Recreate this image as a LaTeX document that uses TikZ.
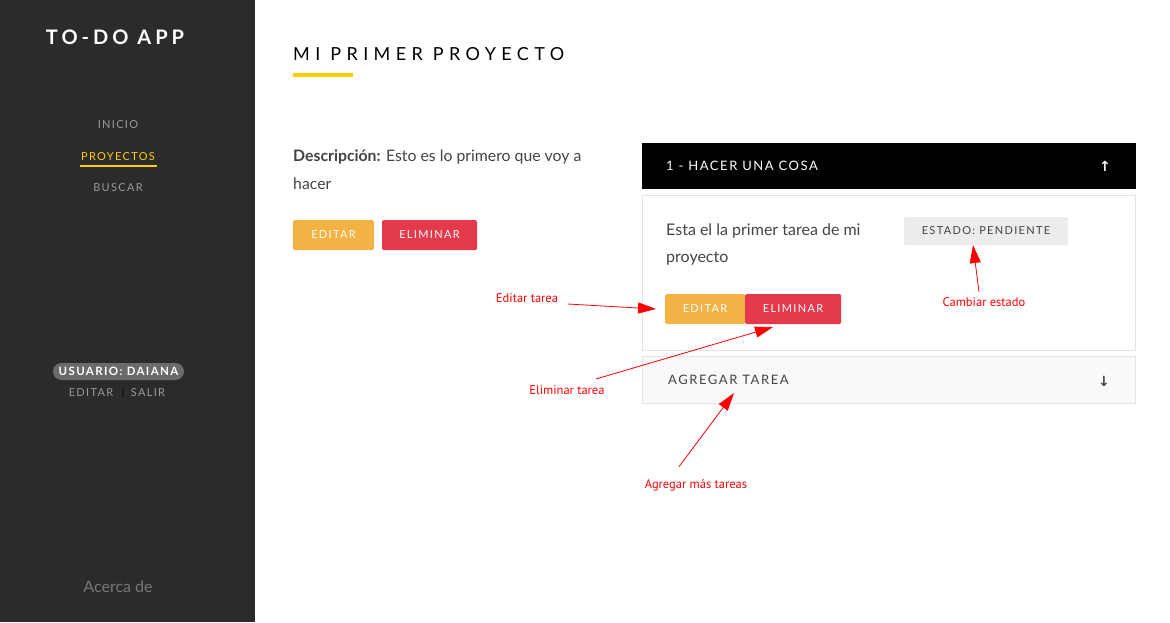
\documentclass[tikz,border=0pt]{standalone}
\usepackage{fontspec}
\setmainfont{Lato}
\newfontfamily\wide[LetterSpace=30]{Lato}
\newfontfamily\brand[LetterSpace=20]{Lato}
\newfontfamily\spaced[LetterSpace=12]{Lato}
\newfontfamily\notefont{PT Sans}
\newfontfamily\symfont{DejaVu Sans}
\usetikzlibrary{arrows.meta,positioning}
\definecolor{side}{HTML}{2B2B2B}
\definecolor{gold}{HTML}{FFCC00}
\definecolor{btnedit}{HTML}{F2B344}
\definecolor{btndel}{HTML}{E43A4B}
\definecolor{txt}{HTML}{444444}
\definecolor{rule}{HTML}{E4E4E4}
\definecolor{menugray}{HTML}{9A9A9A}
\tikzset{
  menu/.style={text=menugray,font=\spaced\fontsize{11}{13}\selectfont},
  btn/.style={minimum height=30pt,inner sep=0pt,text=white,font=\spaced\fontsize{11}{13}\selectfont,rounded corners=1.5pt},
  body/.style={text=txt,font=\fontsize{15.8}{18}\selectfont,anchor=west,inner sep=0pt},
  note/.style={text=red,font=\notefont\fontsize{12.5}{14}\selectfont},
  pointer/.style={red,line width=0.8pt,-{Triangle[length=18pt,width=11pt]}},
}
\begin{document}
\begin{tikzpicture}[x=1pt,y=-1pt]
\useasboundingbox (0,0) rectangle (1170,622);
\fill[white] (0,0) rectangle (1170,622);

% sidebar
\fill[side] (0,0) rectangle (255,622);
\node[text=white,font=\brand\bfseries\fontsize{20}{22}\selectfont] (appname) at (115,37) {TO-DO APP};
\node[menu] (inicio) at (118,125) {INICIO};
\node[menu,text=gold] (proyectos) at (118,157) {PROYECTOS};
\draw[gold,line width=1.5pt] (80,166) -- (157,166);
\node[menu] (buscar) at (118,188) {BUSCAR};
\node[fill=gray!75!side,rounded corners=8.5pt,minimum width=131pt,minimum height=17pt,inner sep=0pt,
      text=white,font=\spaced\bfseries\fontsize{11.5}{13}\selectfont] (usuario) at (118.5,371.5) {USUARIO: DAIANA};
\node[menu] (useredit) at (91,393) {EDITAR};
\node[text=black,font=\fontsize{11}{13}\selectfont] (sep) at (123,393) {|};
\node[menu] (salir) at (148,393) {SALIR};
\node[text=gray!90!side,font=\fontsize{16}{18}\selectfont] (acerca) at (118,587) {Acerca de};

% project
\node[anchor=west,inner sep=0pt,font=\wide\fontsize{18}{20}\selectfont] (titulo) at (293,54) {MI PRIMER PROYECTO};
\fill[gold] (293,73) rectangle (353,77);
\node[body] (desc1) at (293,157) {\textbf{Descripción:} Esto es lo primero que voy a};
\node[body] (desc2) at (293,184) {hacer};
\node[btn,fill=btnedit,minimum width=81pt] (editar) at (333.5,235) {EDITAR};
\node[btn,fill=btndel,minimum width=95pt] (eliminar) at (429.5,235) {ELIMINAR};

% task
\fill[black] (642,143) rectangle (1136,189);
\node[anchor=west,inner sep=0pt,text=white,font=\spaced\fontsize{13}{15}\selectfont] (tarea) at (666,166) {1 - HACER UNA COSA};
\node[text=white,font=\symfont\bfseries\fontsize{14}{16}\selectfont] (up) at (1105,166) {↑};
\draw[rule,fill=white] (642.5,195.5) rectangle (1135.5,350.5);
\node[body,font=\fontsize{16}{18}\selectfont] (tdesc1) at (666,231) {Esta el la primer tarea de mi};
\node[body,font=\fontsize{16}{18}\selectfont] (tdesc2) at (666,258) {proyecto};
\node[fill=gray!15,rounded corners=1.5pt,minimum width=164pt,minimum height=28pt,inner sep=0pt,
      text=txt,font=\spaced\fontsize{11}{13}\selectfont] (estado) at (986,231) {ESTADO: PENDIENTE};
\node[btn,fill=btnedit,minimum width=80pt] (teditar) at (705,309) {EDITAR};
\node[btn,fill=btndel,minimum width=96pt] (teliminar) at (793,309) {ELIMINAR};
\draw[rule,fill=gray!5] (642.5,356.5) rectangle (1135.5,403.5);
\node[anchor=west,inner sep=0pt,text=txt,font=\spaced\fontsize{13}{15}\selectfont] (agregar) at (668,380) {AGREGAR TAREA};
\node[text=txt,font=\symfont\bfseries\fontsize{14}{16}\selectfont] (down) at (1104,381) {↓};

% notes
\node[note] (neditar) at (527,298) {Editar tarea};
\node[note] (nestado) at (984,302) {Cambiar estado};
\node[note] (neliminar) at (567,390) {Eliminar tarea};
\node[note] (nagregar) at (696,485) {Agregar más tareas};
\coordinate (pe) at (656,309);
\coordinate (ps) at (973,245);
\coordinate (pd) at (773,327);
\coordinate (pa) at (734,393);
\draw[pointer] (neditar.east) ++(6,6) -- (pe);
\draw[pointer] (nestado.north) ++(-5,-2) -- (ps);
\draw[pointer] (neliminar.north) ++(29,-3) -- (pd);
\draw[pointer] (nagregar.north) ++(-17,-9) -- (pa);
\end{tikzpicture}
\end{document}
